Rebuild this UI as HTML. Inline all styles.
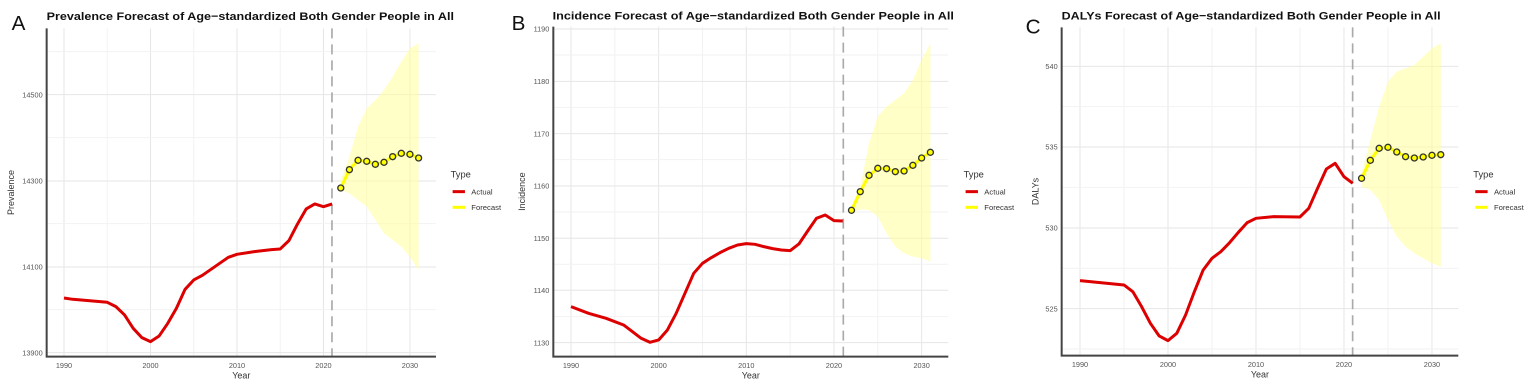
<!DOCTYPE html><html><head><meta charset="utf-8"><style>body{margin:0;background:#fff}svg{display:block}text{font-family:"Liberation Sans",sans-serif}</style></head><body>
<svg id="s" width="1535" height="388" viewBox="0 0 1535 388"></svg>
<script>
var P=[
{off:0,L:'A',lx:35,ly:90,title:'Prevalence Forecast of Age\u2212standardized Both Gender People in All',tx:140,tw:1222,ty:60,ax:140,ab:1070,ar:1308,top:85,
 x0:192,dx:25.95,dash:996,ylab:'Prevalence',ylx:42,
 yt:[[284,'14500'],[543,'14300'],[801,'14100'],[1058,'13900']],ym:[155,413,671,929],
 act:[[1990,894],[1991,898],[1995,907],[1996,920],[1997,945],[1998,985],[1999,1013],[2000,1025],[2001,1008],[2002,970],[2003,925],[2004,868],[2005,840],[2006,826],[2007,808],[2008,790],[2009,772],[2010,763],[2012,755],[2014,749],[2015,747],[2016,722],[2017,672],[2018,627],[2019,612],[2020,620],[2021,612]],
 fc:[564,509,481,484,493,487,470,460,463,474],up:[540,470,380,325,300,270,230,185,145,130],lo:[570,580,600,620,660,700,720,740,770,810],lg:1352},
{off:505,L:'B',lx:20,ly:90,title:'Incidence Forecast of Age\u2212standardized Both Gender People in All',tx:143,tw:1204,ty:58,ax:145,ab:1070,ar:1330,top:80,
 x0:198,dx:26.3,dash:1015,ylab:'Incidence',ylx:60,
 yt:[[87,'1190'],[244,'1180'],[401,'1170'],[558,'1160'],[715,'1150'],[871,'1140'],[1028,'1130']],ym:[165,322,479,636,793,950],
 act:[[1990,920],[1992,940],[1994,955],[1996,975],[1998,1015],[1999,1027],[2000,1020],[2001,990],[2002,940],[2003,880],[2004,820],[2005,790],[2006,773],[2007,758],[2008,745],[2009,735],[2010,731],[2011,733],[2012,740],[2013,746],[2014,750],[2015,752],[2016,732],[2017,693],[2018,655],[2019,645],[2020,662],[2021,663]],
 fc:[631,575,526,505,506,515,513,496,474,457],up:[620,560,430,350,320,300,280,240,180,130],lo:[640,628,630,650,700,740,760,770,775,785],lg:1376},
{off:1020,L:'C',lx:17,ly:100,title:'DALYs Forecast of Age\u2212standardized Both Gender People in All',tx:125,tw:1137,ty:58,ax:125,ab:1067,ar:1315,top:82,
 x0:180,dx:26.4,dash:998,ylab:'DALYs',ylx:55,
 yt:[[199,'540'],[441,'535'],[684,'530'],[926,'525']],ym:[320,562,805,1047],
 act:[[1990,842],[1995,855],[1996,875],[1997,920],[1998,970],[1999,1008],[2000,1022],[2001,1000],[2002,945],[2003,875],[2004,810],[2005,775],[2006,755],[2007,728],[2008,697],[2009,668],[2010,655],[2012,650],[2015,651],[2016,625],[2017,565],[2018,507],[2019,490],[2020,530],[2021,550]],
 fc:[535,481,445,442,456,470,474,471,466,464],up:[520,420,320,245,215,205,195,170,145,130],lo:[560,570,600,660,710,740,760,775,790,800],lg:1360}];
var h='';
P.forEach(function(p){
 var X=function(y){return p.x0+(y-1990)*p.dx};
 h+='<g transform="translate('+p.off+',0) scale(0.3333)">';
 // grid
 for(var y=1990;y<=2030;y+=5){var x=X(y);if(x<p.ar)h+='<line x1="'+x+'" y1="'+p.top+'" x2="'+x+'" y2="'+p.ab+'" stroke="'+(y%10?'#f2f2f2':'#e6e6e6')+'" stroke-width="3"/>';}
 p.ym.forEach(function(v){h+='<line x1="'+p.ax+'" y1="'+v+'" x2="'+p.ar+'" y2="'+v+'" stroke="#f2f2f2" stroke-width="3"/>'});
 p.yt.forEach(function(t){h+='<line x1="'+p.ax+'" y1="'+t[0]+'" x2="'+p.ar+'" y2="'+t[0]+'" stroke="#e6e6e6" stroke-width="3"/><text x="'+(p.ax-12)+'" y="'+(t[0]+8)+'" font-size="22" fill="#555" text-anchor="end">'+t[1]+'</text>'});
 // band
 var pts=[];for(var i=0;i<10;i++)pts.push(X(2022+i)+','+p.up[i]);for(i=9;i>=0;i--)pts.push(X(2022+i)+','+p.lo[i]);
 h+='<polygon points="'+pts.join(' ')+'" fill="#ffff99" fill-opacity="0.55"/>';
 h+='<line x1="'+p.dash+'" y1="'+p.top+'" x2="'+p.dash+'" y2="'+p.ab+'" stroke="#aaa" stroke-width="5" stroke-dasharray="30,18"/>';
 h+='<polyline fill="none" stroke="#dd0000" stroke-width="9" stroke-linejoin="round" points="'+p.act.map(function(a){return X(a[0])+','+a[1]}).join(' ')+'"/>';
 h+='<polyline fill="none" stroke="#ffff00" stroke-width="9" stroke-linejoin="round" points="'+p.fc.map(function(v,i){return X(2022+i)+','+v}).join(' ')+'"/>';
 p.fc.forEach(function(v,i){h+='<circle cx="'+X(2022+i)+'" cy="'+v+'" r="9" fill="#ffff00" stroke="#333" stroke-width="4"/>'});
 // axes
 h+='<polyline fill="none" stroke="#444" stroke-width="6" points="'+p.ax+','+p.top+' '+p.ax+','+p.ab+' '+p.ar+','+p.ab+'"/>';
 for(y=1990;y<=2030;y+=10)h+='<text x="'+X(y)+'" y="'+(p.ab+34)+'" font-size="22" fill="#555" text-anchor="middle">'+y+'</text>';
 h+='<text x="'+((p.ax+p.ar)/2)+'" y="'+(p.ab+66)+'" font-size="27" fill="#333" text-anchor="middle">Year</text>';
 h+='<text transform="translate('+p.ylx+','+((p.top+p.ab)/2)+') rotate(-90)" font-size="27" fill="#333" text-anchor="middle">'+p.ylab+'</text>';
 h+='<text x="'+p.tx+'" y="'+p.ty+'" font-size="34" font-weight="bold" fill="#111" textLength="'+p.tw+'" lengthAdjust="spacingAndGlyphs">'+p.title+'</text>';
 h+='<text x="'+p.lx+'" y="'+p.ly+'" font-size="62" fill="#111">'+p.L+'</text>';
 h+='<text x="'+p.lg+'" y="'+532+'" font-size="28" fill="#333">Type</text>';
 h+='<line x1="'+(p.lg+6)+'" y1="575" x2="'+(p.lg+43)+'" y2="575" stroke="#dd0000" stroke-width="9"/><text x="'+(p.lg+62)+'" y="583" font-size="23" fill="#333">Actual</text>';
 h+='<line x1="'+(p.lg+6)+'" y1="622" x2="'+(p.lg+43)+'" y2="622" stroke="#ffff00" stroke-width="9"/><text x="'+(p.lg+62)+'" y="630" font-size="23" fill="#333">Forecast</text>';
 h+='</g>';
});
document.getElementById('s').innerHTML=h;
</script></body></html>
